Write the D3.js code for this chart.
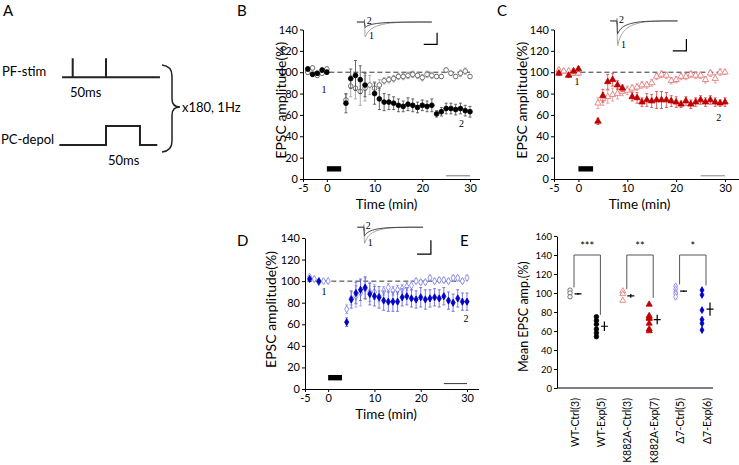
<!DOCTYPE html>
<html>
<head>
<meta charset="utf-8">
<script src="https://cdn.jsdelivr.net/npm/d3@7"></script>
<style>
  body { margin: 0; background: #fff; }
  text { font-family: Lato, "Liberation Sans", sans-serif; }
</style>
</head>
<body>
<div id="fig"></div>
<script>
// time points (min) of the time-course panels
var times = [-4, -3, -2, -1, 0, 4, 5, 6, 7, 8, 9, 10, 11, 12, 13, 14, 15, 16, 17,
             18, 19, 20, 21, 22, 23, 24, 25, 26, 27, 28, 29, 30];

// B: WT
var wtExp     = [103, 98, 99, 102, 100, 71, 94, 97, 93, 88, null, 80, 75, 72, 72, 71, 69, 68, 70, 69, 67, 69, 68, 69, 61, 63, 66, 66, 65, 66, 64, 63];
var wtExpErr  = [2, 2, 2, 2, 2, 9, 9, 14, 13, 11, 0, 10, 10, 8, 7, 6, 6, 5, 6, 6, 5, 5, 5, 6, 3, 4, 5, 5, 5, 5, 5, 5];
var wtCtrl    = [100, 104, 97, 99, 103, 74, 87, 85, 82, 85, 88, 85, 88, 92, 93, 94, 96, 96, 97, 98, 97, 95, 98, 97, 96, 96, 102, 99, 96, 99, 101, 96];
var wtCtrlErr = [2, 2, 2, 2, 2, 5, 10, 10, 13, 12, 9, 6, 5, 3, 3, 3, 3, 3, 3, 3, 3, 3, 3, 3, 2, 2, 2, 2, 2, 3, 3, 2];

// C: K882A
var kExp      = [99, null, 97, 101, 103, 54, 78, 91, 93, 88, 85, null, 77, 76, 72, 74, 73, 74, 74, 74, 73, 72, 70, 73, 70, 72, 74, 72, 74, 72, 71, 72];
var kExpErr   = [2, 0, 2, 2, 2, 3, 6, 7, 6, 4, 3, 0, 4, 5, 4, 6, 6, 8, 8, 7, 5, 5, 3, 4, 4, 4, 4, 4, 4, 4, 3, 4];
var kCtrl     = [102, 101, 101, 99, 99, 71, 75, 77, 79, 80, 82, 83, 85, 86, 88, 88, 90, 96, 98, 97, 92, 93, 96, 96, 98, 97, 97, 93, 99, 94, 100, 100];
var kCtrlErr  = [2, 2, 2, 2, 2, 5, 6, 6, 6, 5, 4, 4, 3, 3, 3, 3, 3, 3, 3, 3, 3, 3, 3, 3, 3, 3, 3, 3, 3, 4, 3, 2];

// D: delta7
var d7Exp     = [102, null, 100, null, null, 62, 83, 89, 92, 94, 88, 86, 85, 82, 81, 81, 81, 85, 86, 84, 83, 85, 83, 84, 85, 84, 86, 82, 80, 84, 81, 81];
var d7ExpErr  = [1, 0, 1, 0, 0, 4, 8, 10, 10, 10, 10, 9, 10, 9, 9, 9, 9, 8, 8, 8, 8, 9, 9, 8, 8, 8, 8, 8, 8, 8, 8, 8];
var d7Ctrl    = [104, 102, 99, 100, 100, 74, 84, 86, 89, 93, 90, 90, 86, 91, 94, 91, 92, 93, 95, 96, 100, 99, 99, 103, 100, 101, 101, 100, 103, 103, 100, 103];
var d7CtrlErr = [1, 1, 1, 1, 1, 4, 6, 10, 12, 10, 9, 7, 5, 4, 4, 4, 4, 4, 4, 4, 2, 2, 2, 2, 2, 2, 2, 2, 2, 2, 2, 2];

var xTicks = [-5, 0, 10, 20, 30];
var yTicks = [0, 20, 40, 60, 80, 100, 120, 140];

// example EPSC traces (inset), shape relative to peak
var traceMs    = [0, 10, 11, 13, 16, 20, 26, 34, 45, 60, 80, 100];
var traceShape = [0, 0, -1, -0.8, -0.6, -0.43, -0.28, -0.16, -0.07, -0.02, 0, 0];

// E: summary
var groups = ["WT-Ctrl(3)", "WT-Exp(5)", "K882A-Ctrl(3)", "K882A-Exp(7)", "\u03947-Ctrl(5)", "\u03947-Exp(6)"];
var wtCtrlCells = [103, 100, 96];
var wtExpCells  = [75, 71, 67, 62, 58, 54];
var kCtrlCells  = [102, 99, 92];
var kExpCells   = [88, 76, 74, 73, 68, 62, 60];
var d7CtrlCells = [107, 104, 101, 99, 96];
var d7ExpCells  = [103, 98, 82, 72, 68, 61];
var groupMeans  = [99, 65, 97, 72, 102, 83];
var groupSem    = [1, 5, 2, 5, 1, 7];
var eTicks = [0, 20, 40, 60, 80, 100, 120, 140, 160];
var bracketPairs = [[0, 1], [2, 3], [4, 5]];
var bracketLegs  = [[106, 77], [104, 95], [109, 108]];
var bracketStars = ["***", "**", "*"];

var svg = d3.select("#fig").append("svg")
    .attr("width", 739)
    .attr("height", 465);

function styleAxis(g, fs) {
  g.selectAll("path, line").attr("stroke", "#000").attr("stroke-width", 1);
  g.selectAll("text").style("font-size", fs + "px").attr("fill", "#000")
    .style("font-family", "Lato, 'Liberation Sans', sans-serif");
}

function drawSeries(g, x, y, vals, errs, st) {
  var pts = times.map(function(t, i) { return {t: t, v: vals[i], e: errs[i]}; })
    .filter(function(d) { return d.v != null; });
  g.append("g").selectAll("path")
    .data(pts.filter(function(d) { return d.e > 0; }))
    .join("path")
      .attr("d", function(d) {
        var cx = x(d.t), y1 = y(d.v - d.e), y2 = y(d.v + d.e);
        return "M" + cx + "," + y1 + "V" + y2 +
               "M" + (cx - 1.5) + "," + y1 + "h3M" + (cx - 1.5) + "," + y2 + "h3";
      })
      .attr("fill", "none")
      .attr("stroke", st.err)
      .attr("stroke-width", 0.8);
  g.append("g").selectAll("path")
    .data(pts)
    .join("path")
      .attr("transform", function(d) { return "translate(" + x(d.t) + "," + y(d.v) + ")"; })
      .attr("d", d3.symbol().type(st.shape).size(st.size))
      .attr("fill", st.fill)
      .attr("stroke", st.stroke)
      .attr("stroke-width", 0.8);
}

function timePanel(cfg) {
  var k = (cfg.x30 - cfg.x5) / 35;
  var x = d3.scaleLinear().domain([-5, cfg.xEnd]).range([cfg.x5, cfg.x5 + (cfg.xEnd + 5) * k]);
  var y = d3.scaleLinear().domain([0, 140]).range([cfg.y0, cfg.y140]);
  var g = svg.append("g");

  g.append("g")
    .attr("transform", "translate(0," + cfg.y0 + ")")
    .call(d3.axisBottom(x).tickValues(xTicks).tickSize(3).tickSizeOuter(0).tickPadding(2)
      .tickFormat(function(d) { return String(d); }))
    .call(styleAxis, 11);
  g.append("g")
    .attr("transform", "translate(" + cfg.x5 + ",0)")
    .call(d3.axisLeft(y).tickValues(yTicks).tickSize(3).tickSizeOuter(0).tickPadding(2))
    .call(styleAxis, 11);

  // axis titles
  g.append("text")
    .attr("transform", "translate(" + cfg.yLabelX + "," + (y(70) - 4) + ") rotate(-90)")
    .attr("text-anchor", "middle")
    .attr("dy", "0.35em")
    .style("font-size", "14px")
    .text("EPSC amplitude(%)");
  g.append("text")
    .attr("x", x(12.5))
    .attr("y", cfg.y0 + 30)
    .attr("text-anchor", "middle")
    .style("font-size", "13.5px")
    .text("Time (min)");

  // 100% reference
  g.append("line")
    .attr("x1", x(-4.5)).attr("x2", x(30))
    .attr("y1", y(100)).attr("y2", y(100))
    .attr("stroke", "#333").attr("stroke-width", 1)
    .attr("stroke-dasharray", "5,3");

  // stimulation bar and time scale line
  g.append("rect")
    .attr("x", x(0)).attr("width", x(3) - x(0))
    .attr("y", y(cfg.barTop)).attr("height", y(cfg.barTop - 5) - y(cfg.barTop))
    .attr("fill", "#000");
  g.append("line")
    .attr("x1", x(25)).attr("x2", x(30))
    .attr("y1", y(cfg.scaleLine)).attr("y2", y(cfg.scaleLine))
    .attr("stroke", cfg.scaleLineColor).attr("stroke-width", 1);

  drawSeries(g, x, y, cfg.ctrl, cfg.ctrlErr, cfg.ctrlStyle);
  drawSeries(g, x, y, cfg.exp, cfg.expErr, cfg.expStyle);

  // "1" / "2" markers
  g.append("text").attr("x", x(cfg.lab1[0])).attr("y", y(cfg.lab1[1]))
    .attr("text-anchor", "middle").attr("dy", "0.35em")
    .style("font-family", "'Liberation Serif', serif").style("font-size", "10px").text("1");
  g.append("text").attr("x", x(cfg.lab2[0])).attr("y", y(cfg.lab2[1]))
    .attr("text-anchor", "middle").attr("dy", "0.35em")
    .style("font-family", "'Liberation Serif', serif").style("font-size", "10px").text("2");

  // inset traces
  var ins = cfg.inset;
  var tx = d3.scaleLinear().domain([0, 100]).range([x(ins.t0), x(ins.t1)]);
  [[ins.amp1, "#9a9a9a"], [ins.amp2, "#333"]].forEach(function(tr) {
    var line = d3.line()
      .x(function(d, i) { return tx(traceMs[i]); })
      .y(function(d) { return y(ins.base + d * tr[0]); })
      .curve(d3.curveMonotoneX);
    g.append("path")
      .attr("d", line(traceShape))
      .attr("fill", "none")
      .attr("stroke", tr[1])
      .attr("stroke-width", 0.9);
  });
  g.append("line")
    .attr("x1", tx(10)).attr("x2", tx(10))
    .attr("y1", y(ins.base + 2.5)).attr("y2", y(ins.base - 3))
    .attr("stroke", "#555").attr("stroke-width", 0.8);
  g.append("text").attr("x", tx(13)).attr("y", y(ins.base - 1))
    .attr("dy", "0.1em")
    .style("font-family", "'Liberation Serif', serif").style("font-size", "10px").text("2");
  g.append("text").attr("x", tx(16)).attr("y", y(ins.base - ins.amp1 + 1))
    .attr("dy", "0.35em")
    .style("font-family", "'Liberation Serif', serif").style("font-size", "10px").text("1");
  var sb = ins.bar;
  g.append("path")
    .attr("d", "M" + x(sb[0]) + "," + y(sb[2]) + "H" + x(sb[1]) + "V" + y(sb[3]))
    .attr("fill", "none").attr("stroke", "#000").attr("stroke-width", 1.2);
}

var circleOpen   = {shape: d3.symbolCircle, size: 17, fill: "#fff", stroke: "#555", err: "#999"};
var circleFilled = {shape: d3.symbolCircle, size: 18, fill: "#000", stroke: "#000", err: "#444"};
var triOpen      = {shape: d3.symbolTriangle, size: 17, fill: "#fff", stroke: "#e07070", err: "#eb8a8a"};
var triFilled    = {shape: d3.symbolTriangle, size: 18, fill: "#c00000", stroke: "#c00000", err: "#d04040"};
var diaOpen      = {shape: d3.symbolDiamond, size: 15, fill: "#fff", stroke: "#7a7ae6", err: "#9a9aee"};
var diaFilled    = {shape: d3.symbolDiamond, size: 15, fill: "#0000cc", stroke: "#0000cc", err: "#5a5ad8"};

timePanel({
  x5: 303, x30: 470, xEnd: 32, y0: 179, y140: 29.5, yLabelX: 281,
  barTop: 12, scaleLine: 3, scaleLineColor: "#777",
  ctrl: wtCtrl, ctrlErr: wtCtrlErr, ctrlStyle: circleOpen,
  exp: wtExp, expErr: wtExpErr, expStyle: circleFilled,
  lab1: [-0.6, 84], lab2: [28.2, 52],
  inset: {t0: 6.3, t1: 22, base: 147, amp1: 14, amp2: 5, bar: [20.3, 23.1, 126, 137]}
});

timePanel({
  x5: 554, x30: 725, xEnd: 33, y0: 179, y140: 29.5, yLabelX: 522,
  barTop: 12, scaleLine: 3, scaleLineColor: "#888",
  ctrl: kCtrl, ctrlErr: kCtrlErr, ctrlStyle: triOpen,
  exp: kExp, expErr: kExpErr, expStyle: triFilled,
  lab1: [-0.3, 91], lab2: [28.7, 58],
  inset: {t0: 6.5, t1: 20.3, base: 148, amp1: 23, amp2: 12, bar: [19.3, 22.1, 120, 131]}
});

timePanel({
  x5: 305, x30: 467, xEnd: 32.5, y0: 389, y140: 238, yLabelX: 271,
  barTop: 13, scaleLine: 5, scaleLineColor: "#333",
  ctrl: d7Ctrl, ctrlErr: d7CtrlErr, ctrlStyle: diaOpen,
  exp: d7Exp, expErr: d7ExpErr, expStyle: diaFilled,
  lab1: [-0.9, 90], lab2: [29.8, 65],
  inset: {t0: 6.3, t1: 20.5, base: 150, amp1: 15, amp2: 8, bar: [19.2, 22.2, 125, 138]}
});

// ---- panel E ----
var xE = d3.scalePoint().domain(groups).range([570, 702]);
var yE = d3.scaleLinear().domain([0, 160]).range([388, 236]);
var gE = svg.append("g");

gE.append("g")
  .attr("transform", "translate(557,0)")
  .call(d3.axisLeft(yE).tickValues(eTicks).tickSize(3).tickSizeOuter(0).tickPadding(2))
  .call(styleAxis, 9.5);
gE.append("line")
  .attr("x1", 557).attr("x2", 713).attr("y1", yE(0)).attr("y2", yE(0))
  .attr("stroke", "#000");
gE.append("text")
  .attr("transform", "translate(524," + yE(75) + ") rotate(-90)")
  .attr("text-anchor", "middle")
  .attr("dy", "0.35em")
  .style("font-size", "12.5px")
  .text("Mean EPSC amp.(%)");

gE.selectAll(".cat")
  .data(groups)
  .join("text")
    .attr("class", "cat")
    .attr("transform", function(d) { return "translate(" + (xE(d) + 5) + ",398) rotate(-90)"; })
    .attr("text-anchor", "end")
    .attr("dy", "0.35em")
    .style("font-size", "10.5px")
    .text(function(d) { return d; });

var cellSets = [wtCtrlCells, wtExpCells, kCtrlCells, kExpCells, d7CtrlCells, d7ExpCells];
var cellStyles = [circleOpen, circleFilled, triOpen, triFilled, diaOpen, diaFilled];
cellSets.forEach(function(cells, gi) {
  var st = cellStyles[gi];
  gE.append("g").selectAll("path")
    .data(cells)
    .join("path")
      .attr("transform", function(v) { return "translate(" + xE(groups[gi]) + "," + yE(v) + ")"; })
      .attr("d", d3.symbol().type(st.shape).size(st.size * 0.9))
      .attr("fill", st.fill)
      .attr("stroke", st.stroke)
      .attr("stroke-width", 0.8);
});

// mean +/- sem
gE.append("g").selectAll("path")
  .data(groups)
  .join("path")
    .attr("d", function(d, i) {
      var cx = xE(d) + 8, m = yE(groupMeans[i]);
      return "M" + (cx - 3.5) + "," + m + "h7" +
             "M" + cx + "," + yE(groupMeans[i] - groupSem[i]) + "V" + yE(groupMeans[i] + groupSem[i]);
    })
    .attr("fill", "none")
    .attr("stroke", "#000")
    .attr("stroke-width", 1.2);

// significance brackets
bracketPairs.forEach(function(p, i) {
  var xl = xE(groups[p[0]]) + 4, xr = xE(groups[p[1]]) + 4;
  gE.append("path")
    .attr("d", "M" + xl + "," + yE(bracketLegs[i][0]) + "V" + yE(140) + "H" + xr + "V" + yE(bracketLegs[i][1]))
    .attr("fill", "none").attr("stroke", "#555").attr("stroke-width", 1);
  gE.append("text")
    .attr("x", (xl + xr) / 2)
    .attr("y", yE(140) - 5)
    .attr("text-anchor", "middle")
    .style("font-size", "11px")
    .text(bracketStars[i]);
});

// ---- panel A: protocol schematic ----
var pfTrace = [[-16, 0], [0, 0], [0, 1], [0, 0], [50, 0], [50, 1], [50, 0], [131, 0]];
var pcTrace = [[-20, 0], [50, 0], [50, 1], [101, 1], [101, 0], [127, 0]];
var xA = d3.scaleLinear().domain([0, 50]).range([72.7, 106]);
var yPF = d3.scaleLinear().domain([0, 1]).range([77.3, 58.3]);
var yPC = d3.scaleLinear().domain([0, 1]).range([145, 126]);
var gA = svg.append("g");
gA.append("path")
  .attr("d", d3.line().x(function(d) { return xA(d[0]); }).y(function(d) { return yPF(d[1]); })(pfTrace))
  .attr("fill", "none").attr("stroke", "#222").attr("stroke-width", 2);
gA.append("path")
  .attr("d", d3.line().x(function(d) { return xA(d[0]); }).y(function(d) { return yPC(d[1]); })(pcTrace))
  .attr("fill", "none").attr("stroke", "#222").attr("stroke-width", 2);
gA.append("path")
  .attr("d", "M162,65 Q172,66 172,76 V99 Q172,107 180,107 Q172,107 172,115 V141 Q172,151 162,152")
  .attr("fill", "none").attr("stroke", "#222").attr("stroke-width", 1.5);
[["PF-stim", 2, 76], ["50ms", 70, 97], ["PC-depol", 1, 144], ["50ms", 108, 165], ["x180, 1Hz", 182, 112]]
  .forEach(function(t) {
    gA.append("text").attr("x", t[1]).attr("y", t[2]).style("font-size", "13px").text(t[0]);
  });

// panel letters
[["A", 3, 16], ["B", 237, 16], ["C", 497, 16], ["D", 237, 246], ["E", 460, 246]].forEach(function(t) {
  svg.append("text").attr("x", t[1]).attr("y", t[2]).style("font-size", "15px").text(t[0]);
});
</script>
</body>
</html>
